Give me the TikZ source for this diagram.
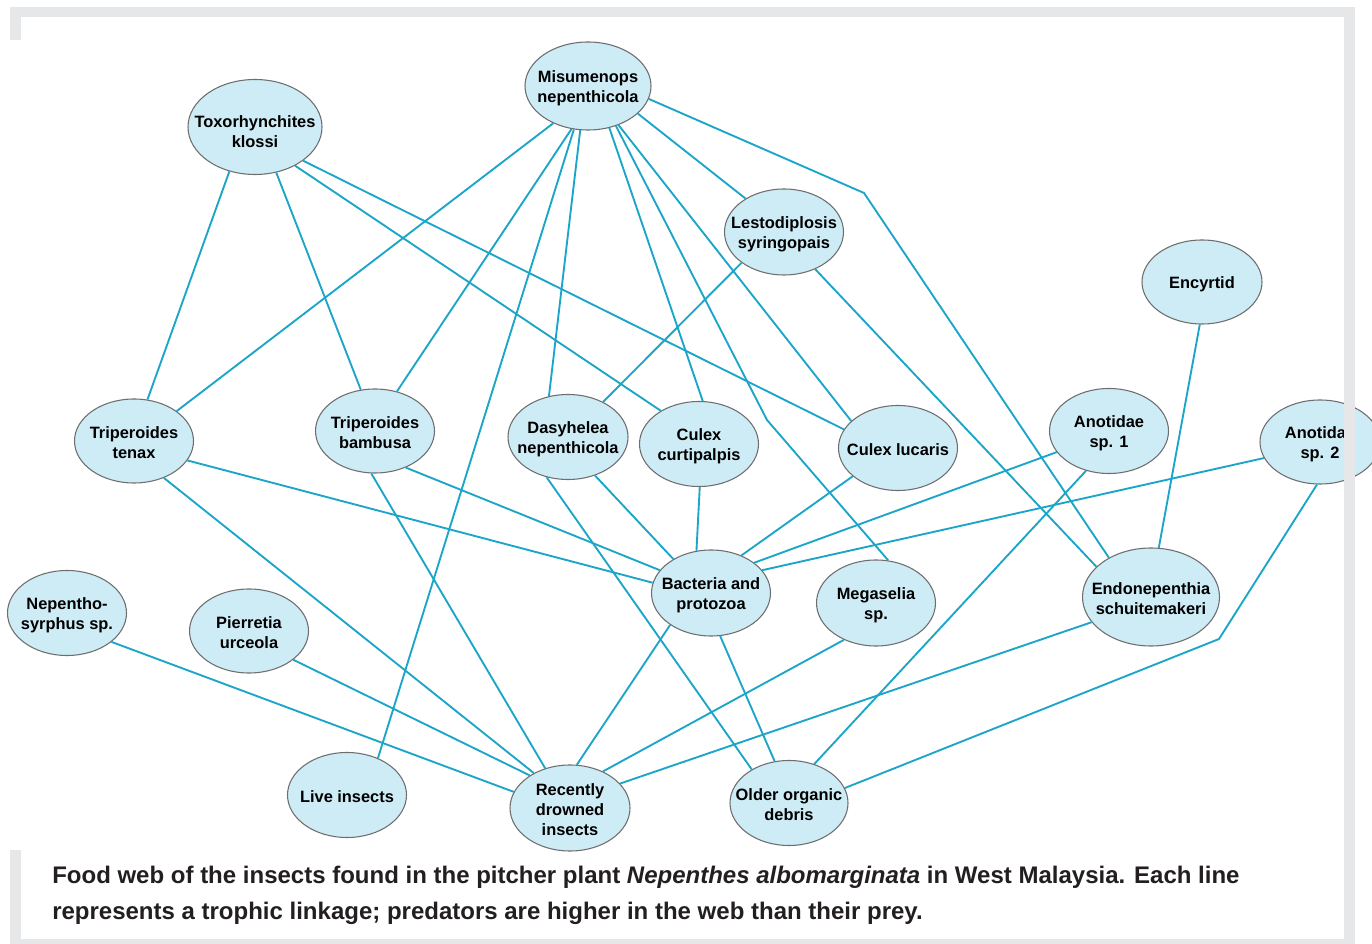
\documentclass[tikz,border=0pt]{standalone}
\usepackage{fontspec}
\setmainfont{Liberation Sans}
\usetikzlibrary{shapes.geometric}
\definecolor{nodefill}{RGB}{206,236,246}
\definecolor{nodeline}{RGB}{110,110,110}
\definecolor{linkcol}{RGB}{27,165,200}
\definecolor{framegray}{RGB}{230,231,233}
\definecolor{captext}{RGB}{35,31,32}
\tikzset{
  sp/.style={ellipse, draw=nodeline, line width=0.8pt, fill=nodefill, inner sep=0pt},
  lab/.style={inner sep=0pt, align=center, text=black, yshift=-1.5pt, font=\fontsize{12.3}{15}\selectfont\bfseries},
  sz/.style 2 args={minimum width=#1*0.75pt, minimum height=#2*0.75pt},
  link/.style={draw=linkcol, line width=1.4pt},
  captxt/.style={inner sep=0pt, text=captext, font=\fontsize{18}{27}\selectfont\bfseries},
  band/.style={fill=framegray, draw=none}
}
\begin{document}
\begin{tikzpicture}[x=0.75pt,y=-0.75pt]
\clip (0,0) rectangle (1372,944);
\fill[white] (0,0) rectangle (1372,944);

% nodes
\node[sp, sz={134}{95}, label={[lab,yshift=-2pt]center:{Toxorhynchites\\klossi}}] (TK) at (255,127) {};
\node[sp, sz={126}{88}, label={[lab]center:{Misumenops\\nepenthicola}}] (MN) at (588,86) {};
\node[sp, sz={119}{86}, label={[lab]center:{Lestodiplosis\\syringopais}}] (LS) at (784,232) {};
\node[sp, sz={120}{84}, label={[lab]center:{Encyrtid}}] (EN) at (1202,282) {};
\node[sp, sz={119}{84}, label={[lab]center:{Triperoides\\tenax}}] (TT) at (134,441) {};
\node[sp, sz={119}{84}, label={[lab]center:{Triperoides\\bambusa}}] (TB) at (375,431) {};
\node[sp, sz={120}{85}, label={[lab]center:{Dasyhelea\\nepenthicola}}] (DN) at (568,437) {};
\node[sp, sz={119}{85}, label={[lab]center:{Culex\\curtipalpis}}] (CC) at (699,444) {};
\node[sp, sz={119}{85}, label={[lab]center:{Culex lucaris}}] (CL) at (898,448) {};
\node[sp, sz={119}{85}, label={[lab]center:{Anotidae\\sp. 1}}] (A1) at (1109,431) {};
\node[sp, sz={120}{84}, label={[lab]center:{Anotida\phantom{e}\\sp. 2}}] (A2) at (1320,442) {};
\node[sp, sz={119}{86}, label={[lab]center:{Bacteria and\\protozoa}}] (BP) at (711,593) {};
\node[sp, sz={119}{86}, label={[lab]center:{Megaselia\\sp.}}] (MS) at (876,603) {};
\node[sp, sz={137}{98}, label={[lab]center:{Endonepenthia\\schuitemakeri}}] (ES) at (1151,597) {};
\node[sp, sz={119}{85}, label={[lab]center:{Nepentho-\\syrphus sp.}}] (NS) at (67,613) {};
\node[sp, sz={119}{84}, label={[lab]center:{Pierretia\\urceola}}] (PU) at (249,631) {};
\node[sp, sz={119}{85}, label={[lab]center:{Live insects}}] (LI) at (347,795) {};
\node[sp, sz={120}{86}, label={[lab]center:{Recently\\drowned\\insects}}] (RD) at (570,808) {};
\node[sp, sz={118}{85}, label={[lab]center:{Older organic\\debris}}] (OD) at (789,803) {};

\coordinate (b1) at (767,420);
\coordinate (b2) at (864,193);
\coordinate (b3) at (1219,639);

% links
\draw[link] (TK.240) -- (TT.72);
\draw[link] (TK.295) -- (TB.109);
\draw[link] (TK.316) -- (CC.139);
\draw[link] (TK.325) -- (CL.161);
\draw[link] (MN.227) -- (TT.35);
\draw[link] (MN.249) -- (TB.61);
\draw[link] (MN.252) -- (LI.50);
\draw[link] (MN.260) -- (DN.115);
\draw[link] (MN.297) -- (CC.85);
\draw[link] (MN.305) -- (b1) -- (MS.74);
\draw[link] (MN.308) -- (CL.150);
\draw[link] (MN.331) -- (LS.139);
\draw[link] (MN.348) -- (b2) -- (ES.137);
\draw[link] (LS.216) -- (DN.45);
\draw[link] (LS.310) -- (ES.151);
\draw[link] (EN.267) -- (ES.81);
\draw[link] (TT.340) -- (BP.170);
\draw[link] (TT.309) -- (RD.136);
\draw[link] (TB.310) -- (BP.156);
\draw[link] (TB.265) -- (RD.122);
\draw[link] (DN.305) -- (BP.138);
\draw[link] (DN.242) -- (OD.138);
\draw[link] (CC.271) -- (BP.109);
\draw[link] (CL.212) -- (BP.51);
\draw[link] (A1.202) -- (BP.35);
\draw[link] (A1.240) -- (OD.57);
\draw[link] (A2.196) -- (BP.24);
\draw[link] (A2.266) -- (b3) -- (OD.15);
\draw[link] (BP.218) -- (RD.81);
\draw[link] (BP.282) -- (OD.109);
\draw[link] (MS.229) -- (RD.48);
\draw[link] (ES.203) -- (RD.26);
\draw[link] (NS.327) -- (RD.164);
\draw[link] (PU.327) -- (RD.141);

% caption
\node[captxt, anchor=base west] (cap1) at (52,883) {Food web of the insects found in the pitcher plant \textit{Nepenthes albomarginata} in West Malaysia. Each line};
\node[captxt, anchor=base west] (cap2) at (52,919) {represents a trophic linkage; predators are higher in the web than their prey.};

% frame
\fill[band] (10,7) rectangle (1355,17);
\fill[band] (10,17) rectangle (21,40);
\fill[band] (1344,17) rectangle (1355,939);
\fill[band] (10,850) rectangle (21,939);
\fill[band] (10,939) rectangle (1355,944);
\end{tikzpicture}
\end{document}
